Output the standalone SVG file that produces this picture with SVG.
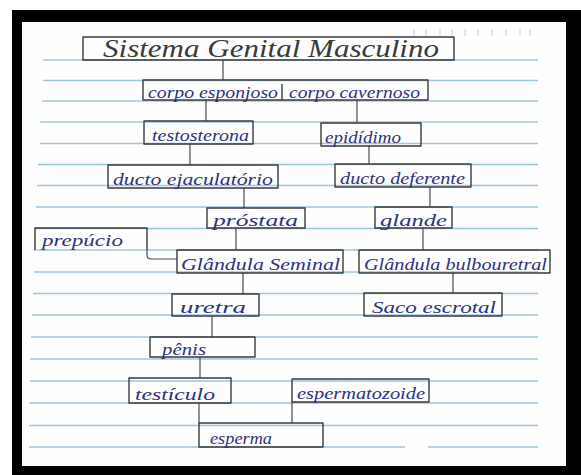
<svg xmlns="http://www.w3.org/2000/svg" width="581" height="475" viewBox="0 0 581 475">
  <style>
    .rule { stroke: #9cc8de; stroke-width: 1.3; fill: none; }
    .box { fill: none; stroke: #3a3a3a; stroke-width: 1.4; stroke-linejoin: round; }
    .wire { fill: none; stroke: #4a4a4a; stroke-width: 1.2; }
    .lbl { font-family: "Liberation Serif", "DejaVu Serif", serif; font-style: italic; font-size: 17px; fill: #2e3081; }
    .ttl { font-family: "Liberation Serif", "DejaVu Serif", serif; font-style: italic; font-size: 26px; fill: #3a3a3a; }
    .tick { stroke: #b9d4e6; stroke-width: 1; }
  </style>

  <!-- frame and page -->
  <rect x="0" y="0" width="581" height="475" fill="#ffffff"/>
  <rect x="12" y="10" width="569" height="465" fill="#000000"/>
  <rect x="22" y="22" width="544" height="444" fill="#fefefe"/>

  <!-- printed date field -->
  <g id="date-field">
    <line class="tick" x1="414" y1="29" x2="414" y2="36"/>
    <line class="tick" x1="426" y1="29" x2="426" y2="36"/>
    <line class="tick" x1="440" y1="29" x2="440" y2="36"/>
    <line class="tick" x1="452" y1="29" x2="452" y2="36"/>
    <line class="tick" x1="465" y1="29" x2="465" y2="36"/>
    <line class="tick" x1="478" y1="29" x2="478" y2="36"/>
    <line class="tick" x1="492" y1="29" x2="492" y2="36"/>
    <line class="tick" x1="506" y1="29" x2="506" y2="36"/>
    <line class="tick" x1="520" y1="29" x2="520" y2="36"/>
    <line class="tick" x1="530" y1="29" x2="530" y2="36"/>
  </g>

  <!-- ruled lines -->
  <g id="rules">
    <line class="rule" x1="43" y1="60" x2="538" y2="60"/>
    <line class="rule" x1="43" y1="80.5" x2="538" y2="80.5"/>
    <line class="rule" x1="42" y1="101" x2="538" y2="101"/>
    <line class="rule" x1="40" y1="122" x2="538" y2="122"/>
    <line class="rule" x1="40" y1="143.5" x2="538" y2="143.5"/>
    <line class="rule" x1="38" y1="164.5" x2="538" y2="164.5"/>
    <line class="rule" x1="37" y1="185.5" x2="538" y2="185.5"/>
    <line class="rule" x1="36" y1="207" x2="538" y2="207"/>
    <line class="rule" x1="35" y1="228.5" x2="538" y2="228.5"/>
    <line class="rule" x1="34" y1="250" x2="538" y2="250"/>
    <line class="rule" x1="34" y1="272" x2="538" y2="272"/>
    <line class="rule" x1="33" y1="293.5" x2="538" y2="293.5"/>
    <line class="rule" x1="32" y1="315" x2="538" y2="315"/>
    <line class="rule" x1="31" y1="337" x2="538" y2="337"/>
    <line class="rule" x1="30" y1="359" x2="538" y2="359"/>
    <line class="rule" x1="30" y1="381" x2="538" y2="381"/>
    <line class="rule" x1="29" y1="403" x2="538" y2="403"/>
    <line class="rule" x1="29" y1="425.5" x2="538" y2="425.5"/>
    <line class="rule" x1="29" y1="447" x2="405" y2="447"/>
    <line class="rule" x1="428" y1="447" x2="538" y2="447"/>
  </g>

  <!-- connectors -->
  <g id="connectors">
    <line class="wire" x1="223" y1="60" x2="223" y2="80"/>
    <line class="wire" x1="206" y1="100" x2="206" y2="121"/>
    <line class="wire" x1="357" y1="100" x2="357" y2="123"/>
    <line class="wire" x1="190" y1="144" x2="190" y2="165"/>
    <line class="wire" x1="369" y1="146" x2="369" y2="164"/>
    <line class="wire" x1="244" y1="188" x2="244" y2="208"/>
    <line class="wire" x1="430" y1="187" x2="430" y2="207"/>
    <line class="wire" x1="236" y1="228" x2="236" y2="250"/>
    <line class="wire" x1="423" y1="228" x2="423" y2="250"/>
    <path class="wire" d="M147,250 V255 Q147,259 151,259 H177"/>
    <line class="wire" x1="243" y1="273" x2="243" y2="294"/>
    <line class="wire" x1="453" y1="273" x2="453" y2="293"/>
    <line class="wire" x1="212" y1="316" x2="212" y2="337"/>
    <line class="wire" x1="200" y1="357" x2="200" y2="378"/>
    <line class="wire" x1="199" y1="403" x2="199" y2="423"/>
    <line class="wire" x1="292" y1="402" x2="292" y2="423"/>
  </g>

  <!-- nodes -->
  <g id="node-title">
    <rect class="box" x="83" y="37" width="371" height="23"/>
    <text class="ttl" x="103" y="57" textLength="336" lengthAdjust="spacingAndGlyphs">Sistema Genital Masculino</text>
  </g>

  <g id="node-corpo">
    <rect class="box" x="143" y="80" width="285" height="20"/>
    <line class="box" x1="282" y1="84" x2="282" y2="100"/>
    <text class="lbl" x="148" y="98" textLength="130" lengthAdjust="spacingAndGlyphs">corpo esponjoso</text>
    <text class="lbl" x="289" y="98" textLength="131" lengthAdjust="spacingAndGlyphs">corpo cavernoso</text>
  </g>

  <g id="node-testosterona">
    <rect class="box" x="144" y="121" width="109" height="23"/>
    <text class="lbl" x="152" y="141" textLength="97" lengthAdjust="spacingAndGlyphs">testosterona</text>
  </g>

  <g id="node-epididimo">
    <rect class="box" x="321" y="123" width="100" height="23"/>
    <text class="lbl" x="325" y="143" textLength="76" lengthAdjust="spacingAndGlyphs">epidídimo</text>
  </g>

  <g id="node-ducto-ejaculatorio">
    <rect class="box" x="108" y="165" width="170" height="23"/>
    <text class="lbl" x="113" y="185" textLength="160" lengthAdjust="spacingAndGlyphs">ducto ejaculatório</text>
  </g>

  <g id="node-ducto-deferente">
    <rect class="box" x="335" y="164" width="136" height="23"/>
    <text class="lbl" x="340" y="184" textLength="125" lengthAdjust="spacingAndGlyphs">ducto deferente</text>
  </g>

  <g id="node-prostata">
    <rect class="box" x="207" y="208" width="98" height="20"/>
    <text class="lbl" x="213" y="226" textLength="85" lengthAdjust="spacingAndGlyphs">próstata</text>
  </g>

  <g id="node-glande">
    <rect class="box" x="375" y="207" width="77" height="21"/>
    <text class="lbl" x="380" y="226" textLength="67" lengthAdjust="spacingAndGlyphs">glande</text>
  </g>

  <g id="node-prepucio">
    <path class="box" d="M35,250 V228 H147 V250"/>
    <text class="lbl" x="42" y="246" textLength="81" lengthAdjust="spacingAndGlyphs">prepúcio</text>
  </g>

  <g id="node-glandula-seminal">
    <rect class="box" x="177" y="250" width="166" height="23"/>
    <text class="lbl" x="181" y="270" textLength="159" lengthAdjust="spacingAndGlyphs">Glândula Seminal</text>
  </g>

  <g id="node-glandula-bulbouretral">
    <rect class="box" x="359" y="250" width="191" height="23"/>
    <text class="lbl" x="364" y="270" textLength="183" lengthAdjust="spacingAndGlyphs">Glândula bulbouretral</text>
  </g>

  <g id="node-uretra">
    <rect class="box" x="172" y="294" width="87" height="22"/>
    <text class="lbl" x="180" y="313" textLength="66" lengthAdjust="spacingAndGlyphs">uretra</text>
  </g>

  <g id="node-saco-escrotal">
    <rect class="box" x="364" y="293" width="138" height="23"/>
    <text class="lbl" x="372" y="313" textLength="124" lengthAdjust="spacingAndGlyphs">Saco escrotal</text>
  </g>

  <g id="node-penis">
    <rect class="box" x="150" y="337" width="105" height="20"/>
    <text class="lbl" x="162" y="355" textLength="44" lengthAdjust="spacingAndGlyphs">pênis</text>
  </g>

  <g id="node-testiculo">
    <rect class="box" x="129" y="378" width="102" height="25"/>
    <text class="lbl" x="135" y="400" textLength="80" lengthAdjust="spacingAndGlyphs">testículo</text>
  </g>

  <g id="node-espermatozoide">
    <rect class="box" x="292" y="379" width="137" height="23"/>
    <text class="lbl" x="297" y="399" textLength="128" lengthAdjust="spacingAndGlyphs">espermatozoide</text>
  </g>

  <g id="node-esperma">
    <rect class="box" x="199" y="423" width="124" height="24"/>
    <text class="lbl" x="210" y="444" textLength="62" lengthAdjust="spacingAndGlyphs">esperma</text>
  </g>
</svg>
